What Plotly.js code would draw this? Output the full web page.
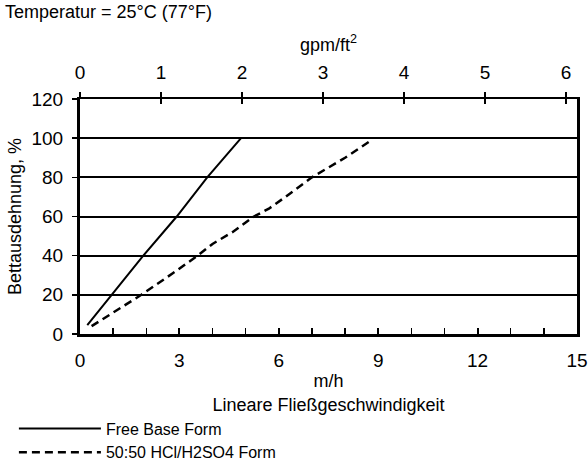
<!DOCTYPE html>
<html>
<head>
<meta charset="utf-8">
<script src="https://cdn.plot.ly/plotly-3.0.1.min.js"></script>
<style>html,body{margin:0;padding:0;background:#fff;}#chart{width:588px;height:462px;}</style>
</head>
<body>
<div id="chart"></div>
<script>
// Data
const seriesNames = ["Free Base Form", "50:50 HCl/H2SO4 Form"];
const freeBaseX = [0.22, 0.96, 1.91, 2.92, 3.84, 4.86];   // m/h
const freeBaseY = [4.5, 20, 40, 60, 80, 100];            // %
const acidX = [0.35, 1.85, 2.8, 3.55, 4.0, 4.6, 5.25, 5.7, 6.2, 7.0, 8.0, 8.8];   // m/h
const acidY = [4, 20, 31, 40, 46, 52, 60, 64, 70, 80, 90, 99];                     // %
const mhPerGpmFt2 = 2.445;   // unit conversion for the top axis (1 gpm/ft² = 2.445 m/h)
const xMax = 15;             // m/h
const yMax = 120;

const toGpm = v => v / mhPerGpmFt2;
const font = "Liberation Sans, Arial, sans-serif";

const traces = [
  // Free base drawn against the top (gpm/ft²) axis, converted from m/h
  {x: freeBaseX.map(toGpm), y: freeBaseY, xaxis: "x2", name: seriesNames[0], mode: "lines",
   line: {color: "#000", width: 2}},
  {x: acidX, y: acidY, name: seriesNames[1], mode: "lines",
   line: {color: "#000", width: 2.5, dash: "8px,5px"}},
  // invisible carrier so the inner half of the top ticks is drawn
  {x: acidX.map(toGpm), y: acidY, xaxis: "x3", mode: "none", showlegend: false, hoverinfo: "skip"}
];

const layout = {
  width: 588, height: 462,
  margin: {l: 80, r: 11, t: 99, b: 128, autoexpand: false},
  paper_bgcolor: "#fff", plot_bgcolor: "#fff",
  font: {family: font, color: "#000", size: 18},
  showlegend: true,
  legend: {x: -0.133, xanchor: "left", y: -0.33, yanchor: "top",
           font: {size: 16}, tracegroupgap: 0, itemwidth: 82, bgcolor: "rgba(0,0,0,0)"},
  xaxis: {
    range: [0, xMax], dtick: 3, tick0: 0,
    ticks: "inside", ticklen: 6, tickwidth: 2, tickcolor: "#000",
    minor: {dtick: 1, ticks: "inside", ticklen: 6, tickwidth: 1.5, tickcolor: "#000"},
    showline: true, linecolor: "#000", linewidth: 2.5,
    showgrid: false, zeroline: false,
    tickfont: {size: 19}, ticklabelstandoff: 8,
    title: {text: "m/h<br>Lineare Fließgeschwindigkeit", font: {size: 18}, standoff: 0}
  },
  xaxis2: {
    overlaying: "x", side: "top", anchor: "y",
    range: [0, toGpm(xMax)], dtick: 1, tick0: 0,
    ticks: "outside", ticklen: 5, tickwidth: 1.5, tickcolor: "#000",
    showline: true, linecolor: "#000", linewidth: 2.5,
    showgrid: false, zeroline: false,
    tickfont: {size: 19}, ticklabelstandoff: 5,
    title: {text: "gpm/ft<sup>2</sup>", font: {size: 18}, standoff: 6}
  },
  xaxis3: {
    overlaying: "x", side: "top", anchor: "y",
    range: [0, toGpm(xMax)], dtick: 1, tick0: 0,
    ticks: "inside", ticklen: 5, tickwidth: 1.5, tickcolor: "#000",
    showticklabels: false, showline: false, showgrid: false, zeroline: false
  },
  yaxis: {
    range: [0, yMax], dtick: 20, tick0: 0,
    ticks: "outside", ticklen: 5, tickwidth: 1.5, tickcolor: "#000",
    showline: true, linecolor: "#000", linewidth: 3, mirror: true,
    showgrid: true, gridcolor: "#000", gridwidth: 2, zeroline: false,
    tickfont: {size: 19}, ticklabelstandoff: 5,
    title: {text: "Bettausdehnung, %", font: {size: 18}, standoff: 6}
  },
  annotations: [
    {text: "Temperatur = 25°C (77°F)", xref: "paper", yref: "paper",
     x: -0.155, xanchor: "left", y: 1.37, yanchor: "middle",
     showarrow: false, font: {size: 18}}
  ]
};

Plotly.newPlot("chart", traces, layout, {staticPlot: true, displayModeBar: false});
</script>
</body>
</html>
